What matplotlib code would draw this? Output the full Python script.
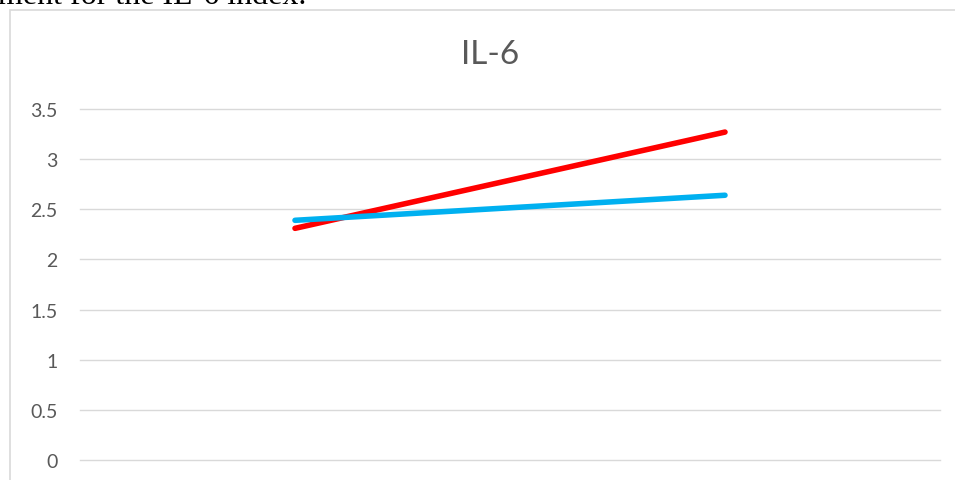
import matplotlib
matplotlib.use("Agg")
import matplotlib.pyplot as plt
from matplotlib.patches import Rectangle

# data
CATEGORIES = ["Before", "After"]
RED_VALUES = [2.31, 3.27]
BLUE_VALUES = [2.39, 2.64]
Y_TICKS = [0, 0.5, 1, 1.5, 2, 2.5, 3, 3.5]
TITLE = "IL-6"
CAPTION = "ment for the IL-6 index."

W, H = 955, 481

fig = plt.figure(figsize=(W / 100, H / 100), dpi=100)

# cropped caption text from the surrounding document
fig.text(-2 / W, 1 - 4 / H, CAPTION, family="Liberation Serif", fontsize=23,
         color="black", ha="left", va="baseline")

# chart area border (only left and top edges are visible)
fig.patches.append(Rectangle((10 / W, -0.1), 1.2, 1 - 11 / H + 0.1,
                             transform=fig.transFigure, fill=False,
                             edgecolor="#d9d9d9", linewidth=1.2))

ax = fig.add_axes([80 / W, 1 - 461 / H, 860 / W, 351 / H])
x = range(len(CATEGORIES))
ax.plot(x, RED_VALUES, color="#ff0000", linewidth=4.0, solid_capstyle="round", zorder=3)
ax.plot(x, BLUE_VALUES, color="#00b0f0", linewidth=4.0, solid_capstyle="round", zorder=3)

ax.set_xlim(-0.5, len(CATEGORIES) - 0.5)
ax.set_ylim(0, 3.5)
ax.set_yticks(Y_TICKS)
ax.set_yticklabels([f"{t:g}" for t in Y_TICKS], family="Lato", fontsize=14, color="#595959")
ax.set_xticks([])
ax.tick_params(axis="y", length=0, pad=16)
ax.grid(axis="y", color="#d9d9d9", linewidth=1.0)
for gl in ax.get_ygridlines():
    gl.set_clip_on(False)
for s in ax.spines.values():
    s.set_visible(False)
ax.patch.set_alpha(0)

fig.text(490 / W, 1 - 55 / H, TITLE, family="Lato", fontsize=24, color="#595959",
         ha="center", va="center")

fig.savefig("out.png", dpi=100)
